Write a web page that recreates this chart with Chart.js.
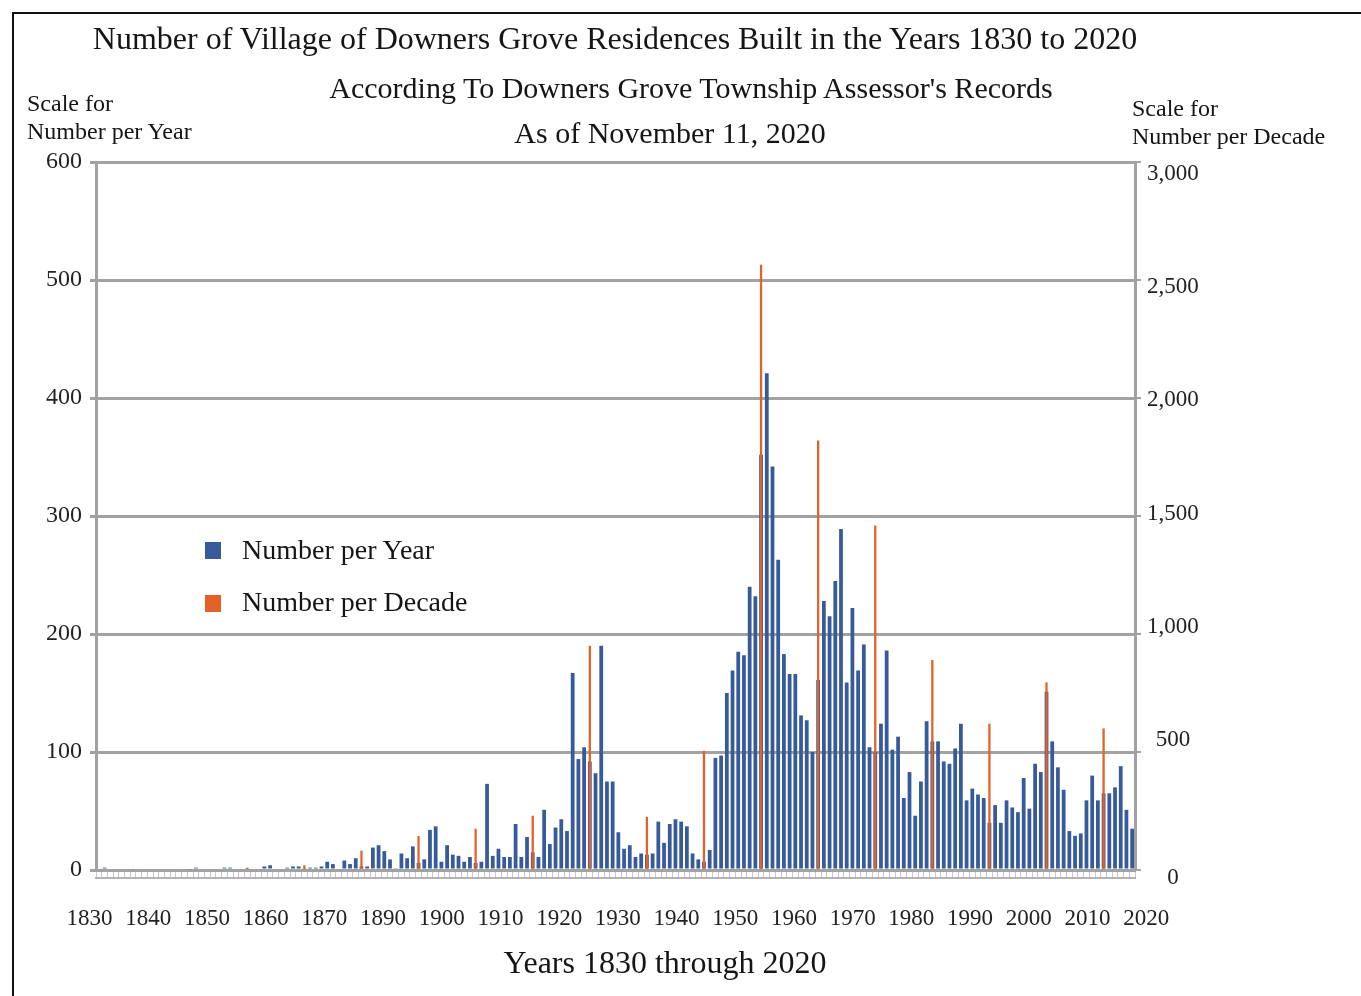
<!DOCTYPE html>
<html><head><meta charset="utf-8">
<script src="https://cdn.jsdelivr.net/npm/chart.js@4/dist/chart.umd.min.js"></script>
<style>
html,body{margin:0;padding:0;background:#fff;}
body{width:1361px;height:996px;position:relative;overflow:hidden;font-family:"Liberation Serif","Times New Roman",serif;color:#151515;}
#frame{position:absolute;left:12px;top:12px;width:1400px;height:1100px;border-left:2px solid #111;border-top:2px solid #111;box-sizing:border-box;}
#wrap{position:absolute;left:0;top:0;width:1361px;height:996px;}
.t{position:absolute;white-space:nowrap;line-height:1;}
.c{transform:translate(-50%,-50%);}
.l{transform:translateY(-50%);}
.sw{position:absolute;width:16px;height:17px;}
</style></head><body>
<div id="frame"></div>
<div id="wrap"><canvas id="chart" width="1361" height="996"></canvas></div>

<div class="t c" style="left:615px;top:38px;font-size:32px;">Number of Village of Downers Grove Residences Built in the Years 1830 to 2020</div>
<div class="t c" style="left:691px;top:88px;font-size:30px;">According To Downers Grove Township Assessor's Records</div>
<div class="t c" style="left:670px;top:133px;font-size:30px;">As of November 11, 2020</div>
<div class="t l" style="left:27px;top:103px;font-size:24px;">Scale for</div>
<div class="t l" style="left:27px;top:131px;font-size:24px;">Number per Year</div>
<div class="t l" style="left:1132px;top:108px;font-size:24px;">Scale for</div>
<div class="t l" style="left:1132px;top:136px;font-size:24px;">Number per Decade</div>
<div class="t c" style="left:665px;top:962px;font-size:32px;">Years 1830 through 2020</div>

<div class="sw" id="swYear" style="left:205px;top:542px;"></div>
<div class="t l" style="left:242px;top:550px;font-size:28px;">Number per Year</div>
<div class="sw" id="swDecade" style="left:205px;top:595px;"></div>
<div class="t l" style="left:242px;top:602px;font-size:28px;">Number per Decade</div>

<script>
// ---- categories: one slot per year (first slot unlabelled; the 1880s are absent in the source chart) ----
const yearLabels = [''];
for (let y = 1830; y <= 1879; y++) yearLabels.push(String(y));
for (let y = 1890; y <= 2020; y++) yearLabels.push(String(y));

// ---- residences built per year ----
const perYear = [
  0,
  2,0,0,0,0,0,0,0,0,0,                 // 1830s
  0,0,0,0,0,0,2,0,0,0,                 // 1840s
  0,2,2,0,0,1,0,0,3,4,                 // 1850s
  0,0,2,3,3,1,2,2,3,7,                 // 1860s
  5,0,8,5,10,3,3,19,21,16,             // 1870s
  9,1,14,10,20,6,9,34,37,7,            // 1890s
  21,13,12,7,11,6,7,73,12,18,          // 1900s
  11,11,39,11,28,15,11,51,22,36,       // 1910s
  43,33,167,94,104,92,82,190,75,75,    // 1920s
  32,18,21,11,14,13,14,41,23,39,       // 1930s
  43,41,37,14,9,7,17,95,97,150,        // 1940s
  169,185,182,240,232,352,421,342,263,183, // 1950s
  166,166,131,127,100,161,228,215,245,289, // 1960s
  159,222,169,191,104,100,124,186,102,113, // 1970s
  61,83,46,75,126,109,109,92,90,103,   // 1980s
  124,59,69,64,61,40,55,40,59,53,      // 1990s
  49,78,52,90,83,151,109,87,68,33,     // 2000s
  29,31,59,80,59,65,65,70,88,51,       // 2010s
  35                                   // 2020
];

// ---- residences built per decade (plotted at the middle year of each decade) ----
const decadeYears = ['1835','1845','1855','1865','1875','1895','1905','1915','1925','1935','1945','1955','1965','1975','1985','1995','2005','2015'];
const perDecade   = [2, 2, 10, 20, 82, 144, 175, 230, 950, 225, 505, 2565, 1820, 1460, 890, 620, 795, 600];

// ---- axis tick labels ----
const xTickLabels = ['1830','1840','1850','1860','1870','1890','1900','1910','1920','1930','1940','1950','1960','1970','1980','1990','2000','2010','2020'];
const decadeTickLabels = ['0','500','1,000','1,500','2,000','2,500','3,000'];

const BLUE = '#375a9a', ORANGE = '#e2622a', GRID = '#a2a2a2', SERIF = '"Liberation Serif","Times New Roman",serif';
document.getElementById('swYear').style.background = BLUE;
document.getElementById('swDecade').style.background = ORANGE;

const decadeData = decadeYears.map((y, i) => ({x: y, y: perDecade[i]}));

new Chart(document.getElementById('chart'), {
  type: 'bar',
  data: {
    labels: yearLabels,
    datasets: [
      {label: 'Number per Decade', data: decadeData, xAxisID: 'x', yAxisID: 'yDecade',
       backgroundColor: ORANGE, grouped: false, barPercentage: 0.4, categoryPercentage: 1, order: 0},
      {label: 'Number per Year', data: perYear, xAxisID: 'x', yAxisID: 'y',
       backgroundColor: BLUE, grouped: false, barPercentage: 0.66, categoryPercentage: 1, order: 1}
    ]
  },
  options: {
    responsive: false, animation: false, devicePixelRatio: 1,
    layout: {padding: {top: 162, bottom: 58, left: 0, right: 0}},
    plugins: {legend: {display: false}, tooltip: {enabled: false}, title: {display: false}},
    scales: {
      x: {type: 'category', position: 'bottom', weight: 0, offset: true,
          grid: {display: true, drawOnChartArea: false, drawTicks: true, tickLength: 8, offset: true, color: '#c4c7d3', lineWidth: 1},
          border: {display: true, color: GRID, width: 3},
          ticks: {display: false},
          afterFit(s) { s.height = 8; }},
      // label-only axis carrying the decade captions under the plot
      xl: {type: 'linear', position: 'bottom', weight: 1, bounds: 'data', offset: false, min: 0.11, max: 17.81,
           grid: {display: true, offset: false, drawOnChartArea: false, drawTicks: false},
           border: {display: true, color: '#b4b4b4', width: 2},
           ticks: {autoSkip: false, maxRotation: 0, minRotation: 0, padding: 27, color: '#222',
                   font: {family: SERIF, size: 23}, callback: (v, i) => xTickLabels[i]},
           afterBuildTicks(s) { s.ticks = xTickLabels.map((_, i) => ({value: i})); },
           afterFit(s) { s.height = 60; }},
      y: {position: 'left', min: 0, max: 600,
          ticks: {stepSize: 100, padding: 8, color: '#222', font: {family: SERIF, size: 24}},
          grid: {color: GRID, lineWidth: 3, drawTicks: true, tickLength: 6},
          border: {display: true, color: GRID, width: 3},
          afterFit(s) { s.width = 96; }},
      // secondary value axis for the decade bars (tick marks only)
      yDecade: {position: 'right', weight: 0, min: 0, max: 3000,
          ticks: {display: false, stepSize: 500},
          grid: {drawOnChartArea: false, drawTicks: true, tickLength: 6, color: GRID, lineWidth: 2},
          border: {display: true, color: GRID, width: 3},
          afterFit(s) { s.width = 8; }},
      // caption axis for the decade scale, placed as in the source
      yDecLbl: {position: 'right', weight: 1, bounds: 'data', min: -74, max: 3053,
          grid: {display: true, drawOnChartArea: false, drawTicks: false},
          border: {display: false},
          ticks: {padding: 4, crossAlign: 'center', color: '#222', font: {family: SERIF, size: 23},
                  callback: (v, i) => decadeTickLabels[i]},
          afterBuildTicks(s) { s.ticks = [-109, 500, 1000, 1500, 2000, 2500, 3000].map(v => ({value: v})); },
          afterFit(s) { s.width = 218; }}
    }
  }
});
</script>
</body></html>
